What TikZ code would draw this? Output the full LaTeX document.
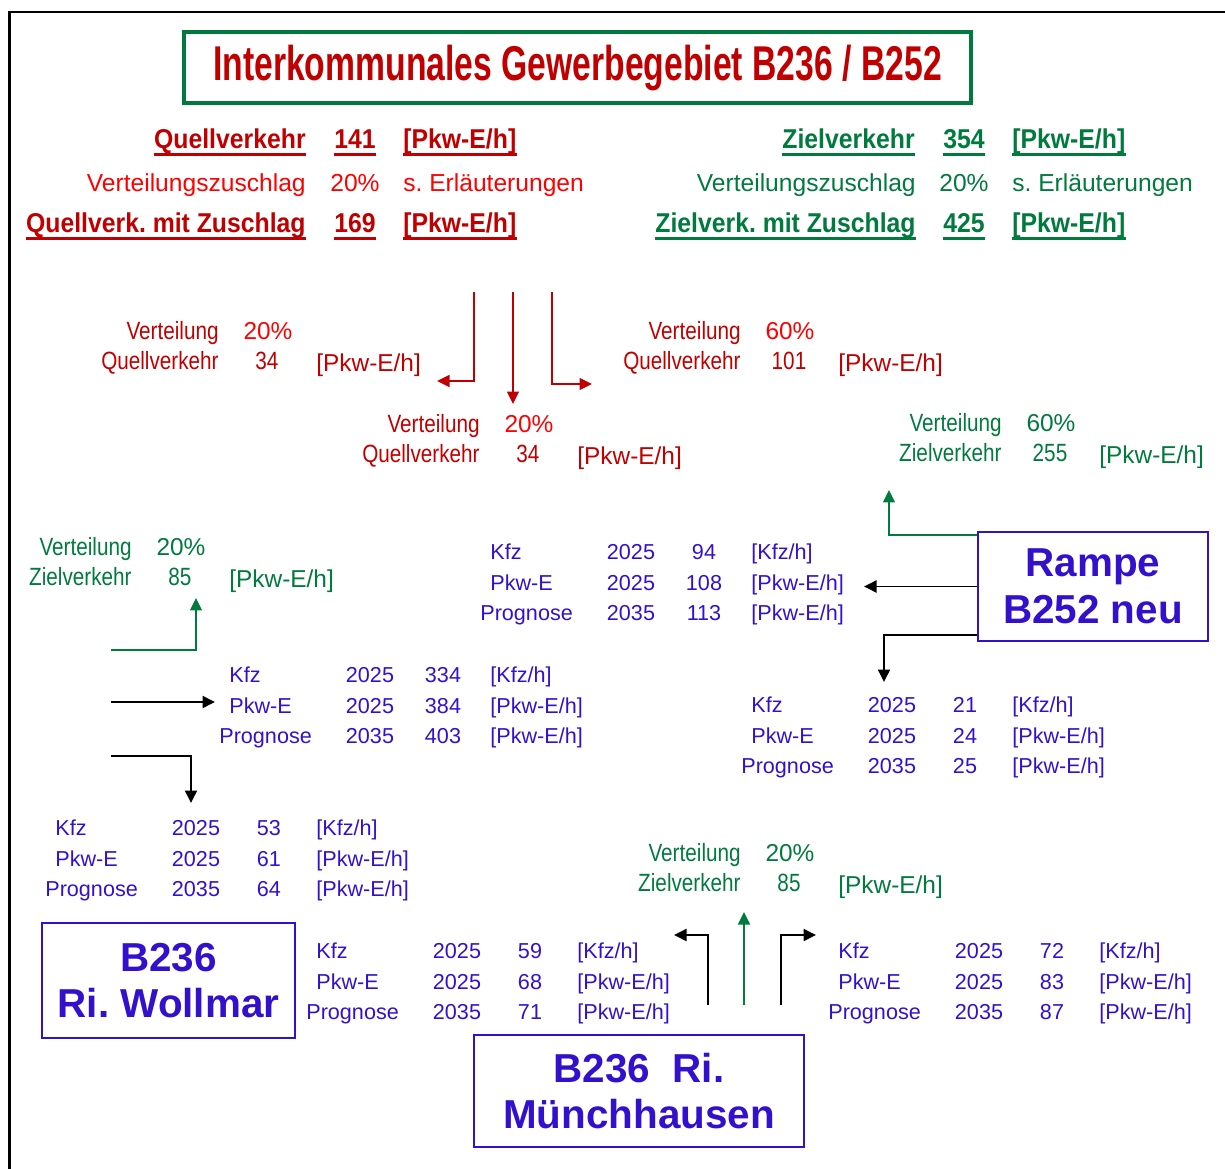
\documentclass[tikz,border=0pt]{standalone}
\usepackage{fontspec}
\setmainfont{Liberation Sans}
\newfontfamily\narrowfont[FakeStretch=0.83]{Liberation Sans}
\newfontfamily\kopffont[FakeStretch=0.91]{Liberation Sans}
\newfontfamily\titlefont[FakeStretch=0.69]{Liberation Sans}
\frenchspacing
\usetikzlibrary{arrows.meta}
\definecolor{cdarkred}{HTML}{C00000}
\definecolor{cred}{HTML}{FF0000}
\definecolor{cgreen}{HTML}{007A3D}
\definecolor{cblue}{HTML}{3311CC}
\tikzset{
  tab/.style={inner sep=0pt, text=cblue, font=\fontsize{12.3}{14}\selectfont, anchor=mid, yshift=-0.06cm},
  kopf/.style={inner sep=0pt, font=\fontsize{14}{16}\selectfont, anchor=mid, yshift=-0.06cm},
  kopffett/.style={kopf, font=\kopffont\bfseries\fontsize{15.5}{17}\selectfont},
  vert/.style={inner sep=0pt, font=\narrowfont\fontsize{14.2}{16}\selectfont, anchor=mid, yshift=-0.06cm},
  pct/.style={inner sep=0pt, font=\fontsize{13.9}{16}\selectfont, anchor=mid, yshift=-0.06cm},
  ort/.style={draw=cblue, line width=1.2pt, text=cblue, align=center, inner sep=0pt,
    font=\bfseries\fontsize{23}{26.6}\selectfont},
  titel/.style={draw=cgreen, line width=2pt, text=cdarkred, inner sep=0pt,
    font=\titlefont\bfseries\fontsize{27.8}{30}\selectfont},
  ul/.style={line width=1.7pt},
  pfeil/.style={-{Triangle[length=0.25cm, width=0.24cm]}, line width=1.1pt},
  rpfeil/.style={pfeil, draw=cdarkred, line width=0.9pt},
  gpfeil/.style={pfeil, draw=cgreen, line width=0.9pt},
}
% Zaehlwerte: Name, x, y, Kfz, Pkw-E, Prognose
\newcommand{\verkehrtab}[6]{%
  \node[tab, anchor=mid west] (#1-kfz) at (#2,#3) {Kfz};
  \node[tab] (#1-kfz-j) at (#2+141,#3) {2025};
  \node[tab] (#1-kfz-w) at (#2+214,#3) {#4};
  \node[tab, anchor=mid west] (#1-kfz-e) at (#2+261,#3) {[Kfz/h]};
  \node[tab, anchor=mid west] (#1-pkw) at (#2,#3+30.5) {Pkw-E};
  \node[tab] (#1-pkw-j) at (#2+141,#3+30.5) {2025};
  \node[tab] (#1-pkw-w) at (#2+214,#3+30.5) {#5};
  \node[tab, anchor=mid west] (#1-pkw-e) at (#2+261,#3+30.5) {[Pkw-E/h]};
  \node[tab, anchor=mid west] (#1-prog) at (#2-10,#3+61) {Prognose};
  \node[tab] (#1-prog-j) at (#2+141,#3+61) {2035};
  \node[tab] (#1-prog-w) at (#2+214,#3+61) {#6};
  \node[tab, anchor=mid west] (#1-prog-e) at (#2+261,#3+61) {[Pkw-E/h]};
}
% Verteilung: Name, x, y, Textfarbe, Prozentfarbe, Art, Prozent, Wert
\newcommand{\vertgruppe}[8]{%
  \node[vert, anchor=mid east, text=#4] (#1-v) at (#2,#3) {Verteilung};
  \node[pct, text=#5] (#1-p) at (#2+49,#3) {#7};
  \node[vert, anchor=mid east, text=#4] (#1-a) at (#2,#3+30) {#6};
  \node[vert, text=#4] (#1-w) at (#2+48,#3+30) {#8};
  \node[pct, anchor=mid west, text=#4] (#1-e) at (#2+97,#3+32) {[Pkw-E/h]};
}

\begin{document}
\begin{tikzpicture}[x=0.02cm, y=-0.02cm]
  \useasboundingbox (0,0) rectangle (1225,1169);
  \draw[line width=1.4pt] (9.5,1169) -- (9.5,12) -- (1225,12);

  \node[titel, minimum width=15.74cm, minimum height=1.42cm] (titel) at (577.5,67.5)
    {Interkommunales Gewerbegebiet B236 / B252};

  % Quellverkehr
  \node[kopffett, anchor=mid east, text=cdarkred] (ql) at (306,141) {Quellverkehr};
  \node[kopffett, text=cdarkred] (ql-w) at (355,141) {141};
  \node[kopffett, anchor=mid west, text=cdarkred] (ql-e) at (403,141) {[Pkw-E/h]};
  \node[kopf, anchor=mid east, text=cred] (qz) at (306,184) {Verteilungszuschlag};
  \node[kopf, text=cred] (qz-w) at (355,184) {20\%};
  \node[kopf, anchor=mid west, text=cred] (qz-e) at (403,184) {s. Erläuterungen};
  \node[kopffett, anchor=mid east, text=cdarkred] (qm) at (306,225) {Quellverk. mit Zuschlag};
  \node[kopffett, text=cdarkred] (qm-w) at (355,225) {169};
  \node[kopffett, anchor=mid west, text=cdarkred] (qm-e) at (403,225) {[Pkw-E/h]};
  \foreach \n in {ql, ql-w, ql-e, qm, qm-w, qm-e}
    \draw[ul, cdarkred] ([yshift=-3.5pt]\n.base west) -- ([yshift=-3.5pt]\n.base east);

  % Zielverkehr
  \node[kopffett, anchor=mid east, text=cgreen] (zl) at (915,141) {Zielverkehr};
  \node[kopffett, text=cgreen] (zl-w) at (964,141) {354};
  \node[kopffett, anchor=mid west, text=cgreen] (zl-e) at (1012,141) {[Pkw-E/h]};
  \node[kopf, anchor=mid east, text=cgreen] (zz) at (916,184) {Verteilungszuschlag};
  \node[kopf, text=cgreen] (zz-w) at (964,184) {20\%};
  \node[kopf, anchor=mid west, text=cgreen] (zz-e) at (1012,184) {s. Erläuterungen};
  \node[kopffett, anchor=mid east, text=cgreen] (zm) at (916,225) {Zielverk. mit Zuschlag};
  \node[kopffett, text=cgreen] (zm-w) at (964,225) {425};
  \node[kopffett, anchor=mid west, text=cgreen] (zm-e) at (1012,225) {[Pkw-E/h]};
  \foreach \n in {zl, zl-w, zl-e, zm, zm-w, zm-e}
    \draw[ul, cgreen] ([yshift=-3.5pt]\n.base west) -- ([yshift=-3.5pt]\n.base east);

  % Verteilungen
  \vertgruppe{qv1}{219}{332}{cdarkred}{cred}{Quellverkehr}{20\%}{34}
  \vertgruppe{qv2}{480}{425}{cdarkred}{cred}{Quellverkehr}{20\%}{34}
  \vertgruppe{qv3}{741}{332}{cdarkred}{cred}{Quellverkehr}{60\%}{101}
  \vertgruppe{zv1}{1002}{424}{cgreen}{cgreen}{Zielverkehr}{60\%}{255}
  \vertgruppe{zv2}{132}{548}{cgreen}{cgreen}{Zielverkehr}{20\%}{85}
  \vertgruppe{zv3}{741}{854}{cgreen}{cgreen}{Zielverkehr}{20\%}{85}

  % Zaehlwerte
  \verkehrtab{t1}{490}{552}{94}{108}{113}
  \verkehrtab{t2}{229}{675}{334}{384}{403}
  \verkehrtab{t3}{751}{705}{21}{24}{25}
  \verkehrtab{t4}{55}{828}{53}{61}{64}
  \verkehrtab{t5}{316}{951}{59}{68}{71}
  \verkehrtab{t6}{838}{951}{72}{83}{87}

  % Knotenpunkte
  \node[ort, minimum width=4.6cm, minimum height=2.18cm] (rampe) at (1093,586.5) {Rampe\\B252 neu};
  \node[ort, minimum width=5.06cm, minimum height=2.3cm] (wollmar) at (168.5,980.5) {B236\\Ri. Wollmar};
  \node[ort, minimum width=6.6cm, minimum height=2.24cm] (muench) at (639,1091) {B236\ \ Ri.\\Münchhausen};

  % Pfeile Gewerbegebiet
  \coordinate (q-a) at (474,292);
  \coordinate (q-b) at (513,292);
  \coordinate (q-c) at (552,292);
  \coordinate (q-a-end) at (437,381);
  \coordinate (q-b-end) at (513,404);
  \coordinate (q-c-end) at (592,384);
  \draw[rpfeil] (q-a) |- (q-a-end);
  \draw[rpfeil] (q-b) -- (q-b-end);
  \draw[rpfeil] (q-c) |- (q-c-end);

  % Pfeile Rampe
  \coordinate (r-gr) at (889,490);
  \coordinate (r-li) at (864,586.5);
  \coordinate (r-ab) at (884,682);
  \draw[gpfeil] ([yshift=-0.08cm]rampe.north west) -| (r-gr);
  \draw[pfeil] (rampe.west) -- (r-li);
  \draw[pfeil] ([yshift=0.14cm]rampe.south west) -| (r-ab);

  % Pfeile links
  \coordinate (w-1) at (111,650);
  \coordinate (w-2) at (111,702);
  \coordinate (w-3) at (111,756);
  \coordinate (w-1-end) at (196,598);
  \coordinate (w-2-end) at (215,702);
  \coordinate (w-3-end) at (191,803);
  \draw[gpfeil] (w-1) -| (w-1-end);
  \draw[pfeil] (w-2) -- (w-2-end);
  \draw[pfeil] (w-3) -| (w-3-end);

  % Pfeile unten
  \coordinate (m-1) at (708,1005);
  \coordinate (m-2) at (744,1005);
  \coordinate (m-3) at (781,1005);
  \coordinate (m-1-end) at (674,935);
  \coordinate (m-2-end) at (744,912);
  \coordinate (m-3-end) at (816,935);
  \draw[pfeil] (m-1) |- (m-1-end);
  \draw[gpfeil] (m-2) -- (m-2-end);
  \draw[pfeil] (m-3) |- (m-3-end);
\end{tikzpicture}
\end{document}
